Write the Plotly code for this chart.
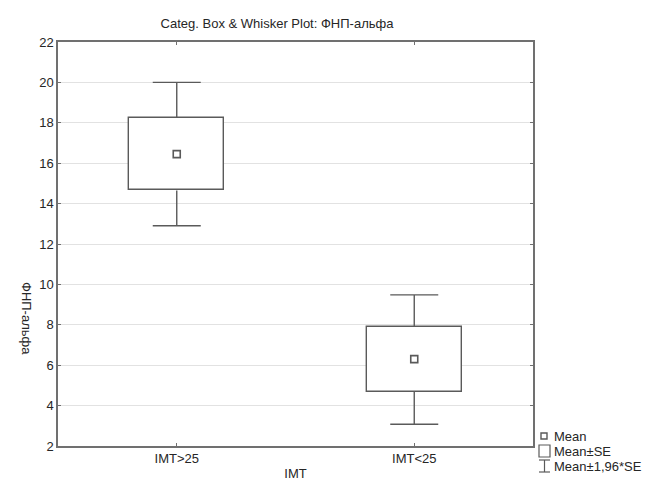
import plotly.graph_objects as go

categories = ["IMT>25", "IMT<25"]
means = [16.45, 6.3]
se_low = [14.65, 4.67]
se_high = [18.25, 7.9]
ci_low = [12.9, 3.08]
ci_high = [20.0, 9.48]
legend_labels = ["Mean", "Mean±SE", "Mean±1,96*SE"]

xs = list(range(len(categories)))
line_col = "#5a5a5a"
axis_col = "#707070"
txt_col = "#262626"
FONT = "Liberation Sans, Arial, sans-serif"

L, R, T, B = 58, 117, 42, 44
W, H = 650, 490
pw, ph = W - L - R, H - T - B


def px(x):
    return (x - L) / pw


def py(y):
    return (H - B - y) / ph


fig = go.Figure()

# Mean ± SE boxes
fig.add_trace(go.Bar(
    x=xs, y=[h - l for h, l in zip(se_high, se_low)], base=se_low, width=0.4,
    marker=dict(color="white", line=dict(color=line_col, width=1.4)),
    showlegend=False, hoverinfo="skip"))

# whisker stems from box edges to ±1.96*SE
stem_x, stem_y = [], []
for i in xs:
    stem_x += [i, i, None, i, i, None]
    stem_y += [se_high[i], ci_high[i], None, se_low[i], ci_low[i], None]
fig.add_trace(go.Scatter(
    x=stem_x, y=stem_y, mode="lines", line=dict(color=line_col, width=1.4),
    showlegend=False, hoverinfo="skip"))

# whisker caps (zero-length error bars -> caps only)
for ends in (ci_high, ci_low):
    fig.add_trace(go.Scatter(
        x=xs, y=ends, mode="markers", marker=dict(size=1, opacity=0),
        error_y=dict(type="data", array=[0] * len(xs), width=24, thickness=1.4, color=line_col),
        showlegend=False, hoverinfo="skip"))

# Means
fig.add_trace(go.Scatter(
    x=xs, y=means, mode="markers",
    marker=dict(symbol="square-open", size=7, color=line_col, line=dict(width=1.6)),
    showlegend=False, hoverinfo="skip"))

fig.update_layout(
    width=W, height=H,
    margin=dict(l=L, r=R, t=T, b=B, autoexpand=False),
    paper_bgcolor="white", plot_bgcolor="white",
    font=dict(family=FONT, size=13, color=txt_col),
    title=dict(text="Categ. Box & Whisker Plot: ФНП-альфа", x=277 / W, xanchor="center",
               y=1 - 23 / H, yanchor="middle", font=dict(size=13, color=txt_col)),
    showlegend=False,
    bargap=0,
)

fig.update_xaxes(
    range=[-0.5, 1.5], tickvals=xs, ticktext=categories,
    showline=True, linecolor=axis_col, linewidth=1.5, mirror="ticks",
    ticks="inside", ticklen=3, tickcolor=axis_col, showgrid=False, zeroline=False,
    tickfont=dict(size=13),
    title=dict(text="IMT", standoff=4, font=dict(size=13)),
)
fig.update_yaxes(
    range=[2, 22], dtick=2,
    showline=True, linecolor=axis_col, linewidth=1.5, mirror="ticks",
    ticks="inside", ticklen=3, tickcolor=axis_col,
    showgrid=True, gridcolor="#e2e2e2", gridwidth=1, zeroline=False,
    tickfont=dict(size=13),
)

fig.add_annotation(text="ФНП-альфа", textangle=90, xref="paper", yref="paper",
                   x=px(27), y=py(318), xanchor="center", yanchor="middle",
                   showarrow=False, font=dict(size=13, color=txt_col))

# manual legend (bottom right, outside the plot area)
shapes = []
shapes.append(dict(type="rect", xref="paper", yref="paper",
                   x0=px(541), x1=px(547), y0=py(439), y1=py(433),
                   line=dict(color=line_col, width=1.4), fillcolor="white"))
shapes.append(dict(type="rect", xref="paper", yref="paper",
                   x0=px(539), x1=px(550), y0=py(457), y1=py(445),
                   line=dict(color=line_col, width=1.2), fillcolor="white"))
shapes.append(dict(type="line", xref="paper", yref="paper",
                   x0=px(544.5), x1=px(544.5), y0=py(472), y1=py(460),
                   line=dict(color=line_col, width=1.2)))
shapes.append(dict(type="line", xref="paper", yref="paper",
                   x0=px(539), x1=px(550), y0=py(460), y1=py(460),
                   line=dict(color=line_col, width=1.2)))
shapes.append(dict(type="line", xref="paper", yref="paper",
                   x0=px(539), x1=px(550), y0=py(472), y1=py(472),
                   line=dict(color=line_col, width=1.2)))
fig.update_layout(shapes=shapes)

for lab, yy in zip(legend_labels, [436, 451, 466]):
    fig.add_annotation(text=lab, xref="paper", yref="paper", x=px(552), y=py(yy),
                       xanchor="left", yanchor="middle", showarrow=False,
                       font=dict(size=13, color=txt_col))

fig.write_html("out.html")
